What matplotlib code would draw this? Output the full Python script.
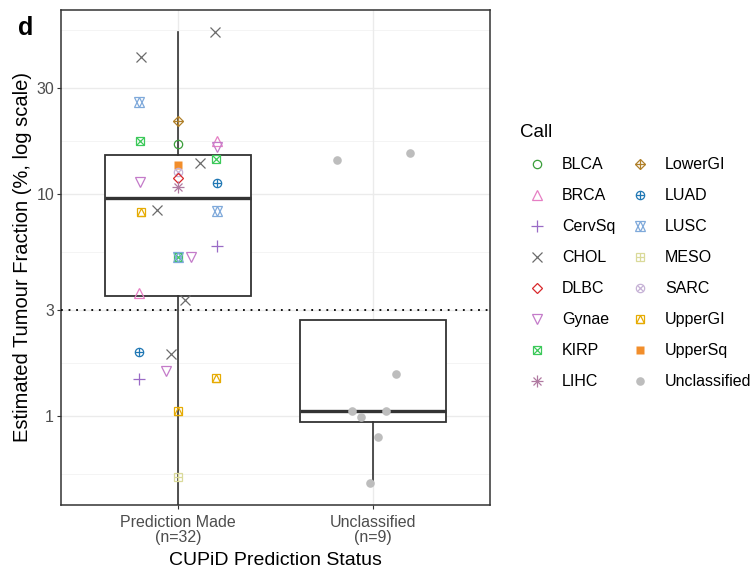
import numpy as np
import matplotlib
matplotlib.use("Agg")
import matplotlib.pyplot as plt
from matplotlib.lines import Line2D

plt.rcParams['font.family'] = ['Liberation Sans', 'DejaVu Sans']

# Categorias del eje x
groups = ["Prediction Made\n(n=32)", "Unclassified\n(n=9)"]

# Puntos del grupo "Prediction Made" (llamada, valor %, desplazamiento jitter)
pm_call = ["CHOL", "CHOL", "LUSC", "LowerGI", "KIRP", "BLCA", "BRCA", "Gynae",
           "KIRP", "CHOL", "UpperSq", "SARC", "DLBC", "LIHC", "Gynae", "LUAD",
           "UpperGI", "CHOL", "LUSC", "CervSq", "KIRP", "LUSC", "Gynae", "BRCA",
           "CHOL", "LUAD", "CHOL", "Gynae", "CervSq", "UpperGI", "UpperGI", "MESO"]
pm_value = [53.7, 41.4, 26.0, 21.3, 17.3, 16.8, 17.4, 16.3,
            14.4, 13.8, 13.5, 12.6, 11.8, 10.8, 11.3, 11.2,
            8.3, 8.5, 8.4, 5.8, 5.2, 5.2, 5.2, 3.58,
            3.33, 1.94, 1.90, 1.60, 1.47, 1.48, 1.05, 0.53]
pm_offset = [0.19, -0.19, -0.20, 0.0, -0.195, 0.0, 0.20, 0.20,
             0.195, 0.113, 0.0, 0.0, 0.0, 0.0, -0.195, 0.20,
             -0.19, -0.108, 0.20, 0.20, 0.0, 0.0, 0.067, -0.20,
             0.036, -0.20, -0.036, -0.062, -0.20, 0.195, 0.0, 0.0]

# Puntos del grupo "Unclassified"
un_value = [14.2, 15.3, 1.55, 1.05, 0.99, 1.05, 0.80, 0.50]
un_offset = [-0.185, 0.19, 0.118, -0.108, -0.062, 0.067, 0.026, -0.015]

# Estadisticas de las cajas
box_q1 = [3.47, 0.94]
box_med = [9.6, 1.05]
box_q3 = [15.0, 2.71]
box_lo = [0.36, 0.50]
box_hi = [53.7, 2.71]

# Orden de la leyenda
legend_calls = ["BLCA", "BRCA", "CervSq", "CHOL", "DLBC", "Gynae", "KIRP", "LIHC",
                "LowerGI", "LUAD", "LUSC", "MESO", "SARC", "UpperGI", "UpperSq",
                "Unclassified"]

colors = {
    "BLCA": "#3A9E3A", "BRCA": "#E67FC4", "CervSq": "#9A6BC6", "CHOL": "#6B6B6B",
    "DLBC": "#D8282B", "Gynae": "#C47BC9", "KIRP": "#3CC95A", "LIHC": "#B07AA1",
    "LowerGI": "#B0802A", "LUAD": "#1F77B4", "LUSC": "#7FA9DA", "MESO": "#DADA9A",
    "SARC": "#C6B2D6", "UpperGI": "#E6AB02", "UpperSq": "#F28E2B",
    "Unclassified": "#BDBDBD",
}

# Formas tipo ggplot construidas con varias capas de marcadores
shapes = {
    "BLCA": [("o", 6.0)],
    "BRCA": [("^", 7.0)],
    "CervSq": [("+", 8.5)],
    "CHOL": [("x", 6.5)],
    "DLBC": [("D", 5.6)],
    "Gynae": [("v", 7.0)],
    "KIRP": [("s", 5.8), ("x", 5.8)],
    "LIHC": [("+", 8.0), ("x", 5.8)],
    "LowerGI": [("D", 5.6), ("+", 7.9)],
    "LUAD": [("o", 6.0), ("+", 6.0)],
    "LUSC": [("^", 6.8), ("v", 6.8)],
    "MESO": [("s", 5.8), ("+", 5.8)],
    "SARC": [("o", 6.0), ("x", 4.3)],
    "UpperGI": [("s", 5.8), ("^", 5.8)],
    "UpperSq": [("s", 5.8, True)],
    "Unclassified": [("o", 6.2, True)],
}

fig = plt.figure(figsize=(7.53, 5.68), dpi=100)
ax = fig.add_axes([61 / 753, 1 - 505 / 568, 429 / 753, 495 / 568])

ax.set_yscale("log")
ax.set_ylim(0.397, 67.4)
ax.set_xlim(0.4, 2.6)

# Cuadricula estilo theme_bw
major = [1, 3, 10, 30]
minor = [0.548, 1.73, 5.48, 17.3, 54.8]
for v in major:
    ax.axhline(v, color="#EBEBEB", lw=1.0, zorder=0)
for v in minor:
    ax.axhline(v, color="#F2F2F2", lw=0.6, zorder=0)
for x in [1, 2]:
    ax.axvline(x, color="#EBEBEB", lw=1.0, zorder=0)

# Cajas
stats = []
for i in range(2):
    stats.append({"med": box_med[i], "q1": box_q1[i], "q3": box_q3[i],
                  "whislo": box_lo[i], "whishi": box_hi[i], "fliers": []})
ax.bxp(stats, positions=[1, 2], widths=0.75, showcaps=False, patch_artist=True,
       boxprops=dict(facecolor="white", edgecolor="#333333", lw=1.3),
       whiskerprops=dict(color="#333333", lw=1.2),
       medianprops=dict(color="#333333", lw=2.4, solid_capstyle="butt"),
       zorder=2, manage_ticks=False)

# Linea punteada en 3%
ax.axhline(3, color="black", lw=1.3, ls=(0, (1, 3.2)), zorder=3)


def draw(x, y, call, z=4):
    for spec in shapes[call]:
        m, ms = spec[0], spec[1]
        filled = len(spec) > 2
        ax.plot(x, y, ls="none", marker=m, ms=ms, mew=0.9,
                mec=colors[call] if not filled else "none",
                mfc=colors[call] if filled else "none", zorder=z)


for c, v, o in zip(pm_call, pm_value, pm_offset):
    draw(1 + o, v, c)
for v, o in zip(un_value, un_offset):
    draw(2 + o, v, "Unclassified")

ax.set_yticks(major)
ax.set_yticklabels(["1", "3", "10", "30"])
ax.yaxis.set_minor_locator(matplotlib.ticker.NullLocator())
ax.set_xticks([1, 2])
ax.set_xticklabels(groups, linespacing=1.0)
ax.tick_params(axis="both", colors="#333333", labelcolor="#4D4D4D", labelsize=11.5,
               length=3, width=0.8, pad=2)
ax.tick_params(axis="x", pad=4.5)
for s in ax.spines.values():
    s.set_color("#333333")
    s.set_linewidth(1.1)

ax.set_xlabel("CUPiD Prediction Status", fontsize=14, labelpad=4.5)
ax.set_ylabel("Estimated Tumour Fraction (%, log scale)", fontsize=14.5, labelpad=3)

fig.text(18 / 753, 1 - 28 / 568, "d", fontsize=18, fontweight="bold", va="center")

# Leyenda
handles = []
for c in legend_calls:
    parts = []
    for spec in shapes[c]:
        filled = len(spec) > 2
        parts.append(Line2D([], [], ls="none", marker=spec[0], ms=spec[1], mew=0.9,
                            mec=colors[c] if not filled else "none",
                            mfc=colors[c] if filled else "none"))
    handles.append(tuple(parts))

leg = fig.legend(handles, legend_calls, title="Call", ncol=2, loc="upper left",
                 bbox_to_anchor=(513 / 753, 1 - 110 / 568), frameon=False,
                 fontsize=11.5, title_fontsize=13.5, alignment="left",
                 labelspacing=1.0, handlelength=1.2, handletextpad=0.96,
                 columnspacing=0.95)
leg.get_title().set_x(-7)

fig.savefig("out.png", dpi=100)
